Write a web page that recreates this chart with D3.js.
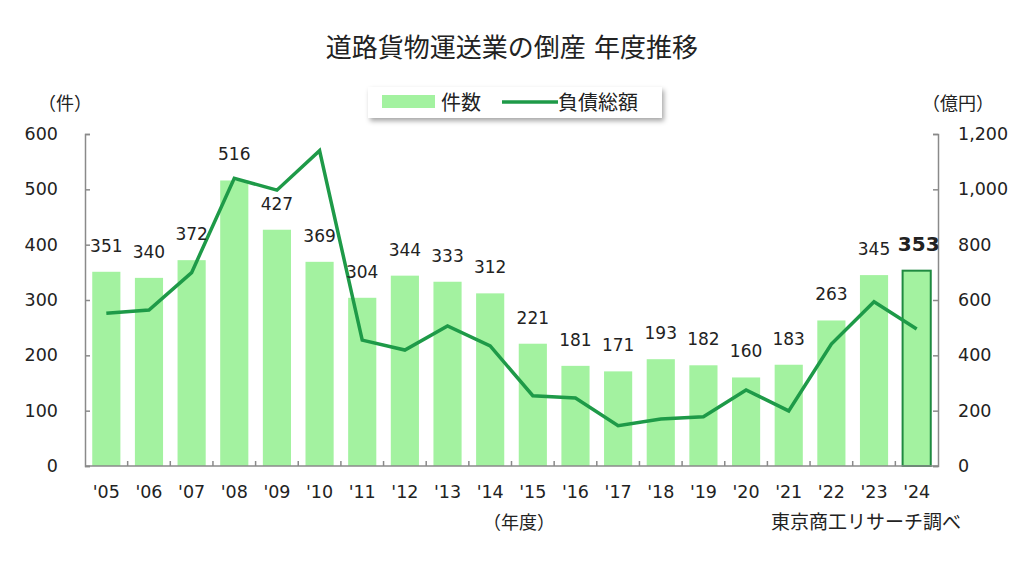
<!DOCTYPE html>
<html>
<head>
<meta charset="utf-8">
<script src="https://cdn.jsdelivr.net/npm/d3@7"></script>
<style>
  body { margin: 0; background: #fff; }
  text { font-family: "DejaVu Sans", "Noto Sans CJK JP", sans-serif; fill: #222; }
</style>
</head>
<body>
<div id="container"></div>
<script>
/* DATA */
const years = ["'05","'06","'07","'08","'09","'10","'11","'12","'13","'14",
               "'15","'16","'17","'18","'19","'20","'21","'22","'23","'24"];
const cases = [351,340,372,516,427,369,304,344,333,312,221,181,171,193,182,160,183,263,345,353];
const debt = [552,564,699,1040,997,1140,455,419,506,434,254,246,146,170,178,275,199,441,594,495];
const leftTicks = [0,100,200,300,400,500,600];
const rightTicks = [0,200,400,600,800,1000,1200];

/* CONSTANTS */
const W = 1024, H = 576;
const margin = {top: 134, right: 86, bottom: 110, left: 85};
const width = W - margin.left - margin.right,
      height = H - margin.top - margin.bottom;
const barColor = "#a3f2a0", lineColor = "#1e9a48", axisColor = "#8a8a8a";

const svg = d3.select("#container")
  .append("svg")
  .attr("width", W)
  .attr("height", H);

// title
svg.append("text")
  .attr("x", 512).attr("y", 57)
  .attr("text-anchor", "middle")
  .style("font-size", "26px")
  .text("道路貨物運送業の倒産 年度推移");

const g = svg.append("g")
  .attr("transform", `translate(${margin.left},${margin.top})`);

// SCALES
const x = d3.scaleBand().domain(years).range([0, width]).paddingInner(0.34).paddingOuter(0.17);
const xs = d3.scaleBand().domain(years).range([0, width]);
const yL = d3.scaleLinear().domain([0, 600]).range([height, 0]);
const yR = d3.scaleLinear().domain([0, 1200]).range([height, 0]);

// BARS
g.selectAll("rect.bar")
  .data(cases)
  .join("rect")
  .attr("class", "bar")
  .attr("x", (d, i) => x(years[i]))
  .attr("y", d => yL(d))
  .attr("width", x.bandwidth())
  .attr("height", d => height - yL(d))
  .attr("fill", barColor)
  .attr("stroke", (d, i) => i === cases.length - 1 ? "#1f8a40" : "none")
  .attr("stroke-width", 2);

// AXES
const axL = g.append("g").call(d3.axisLeft(yL).tickValues(leftTicks).tickSize(-5).tickPadding(27));
const axR = g.append("g").attr("transform", `translate(${width},0)`)
  .call(d3.axisRight(yR).tickValues(rightTicks).tickSize(-5).tickPadding(20).tickFormat(d3.format(",")));
const axB = g.append("g").attr("transform", `translate(0,${height})`)
  .call(d3.axisBottom(xs).tickSize(0).tickPadding(20));
[axL, axR, axB].forEach(a => {
  a.select(".domain").attr("stroke", axisColor).attr("stroke-width", 1.5);
  a.selectAll(".tick line").attr("stroke", axisColor).attr("stroke-width", 1.5);
  a.selectAll(".tick text").style("font-size", "17.5px").attr("fill", "#222");
});
axB.select(".domain").attr("d", `M0,0H${width}`);
// category separator ticks on the x axis
g.selectAll("line.sep")
  .data(years.slice(1))
  .join("line")
  .attr("class", "sep")
  .attr("x1", d => xs(d)).attr("x2", d => xs(d))
  .attr("y1", height).attr("y2", height - 5)
  .attr("stroke", axisColor).attr("stroke-width", 1.5);

// LINE
g.append("path")
  .datum(debt)
  .attr("fill", "none")
  .attr("stroke", lineColor)
  .attr("stroke-width", 3.5)
  .attr("stroke-linejoin", "miter")
  .attr("d", d3.line()
    .x((d, i) => xs(years[i]) + xs.bandwidth() / 2)
    .y(d => yR(d)));

// BAR LABELS
g.selectAll("text.lbl")
  .data(cases)
  .join("text")
  .attr("class", "lbl")
  .attr("x", (d, i) => xs(years[i]) + xs.bandwidth() / 2 + (i === cases.length - 1 ? 2 : 0))
  .attr("y", d => yL(d) - 20)
  .attr("text-anchor", "middle")
  .style("font-size", (d, i) => i === cases.length - 1 ? "20px" : "17px")
  .style("font-weight", (d, i) => i === cases.length - 1 ? "bold" : "normal")
  .text(d => d);

// axis unit labels
svg.append("text").attr("x", 38).attr("y", 110).style("font-size", "18px").text("（件）");
svg.append("text").attr("x", 922).attr("y", 110).style("font-size", "18px").text("（億円）");
svg.append("text").attr("x", 483).attr("y", 529).style("font-size", "18px").text("（年度）");
svg.append("text").attr("x", 961).attr("y", 529).attr("text-anchor", "end")
  .style("font-size", "19px").text("東京商工リサーチ調べ");

// LEGEND
const defs = svg.append("defs");
const f = defs.append("filter").attr("id", "shadow").attr("x", "-10%").attr("y", "-30%").attr("width", "130%").attr("height", "180%");
f.append("feDropShadow").attr("dx", 2).attr("dy", 3).attr("stdDeviation", 2.5).attr("flood-color", "#000").attr("flood-opacity", 0.35);

const lg = svg.append("g").attr("transform", "translate(368,87)");
lg.append("rect").attr("width", 294).attr("height", 31).attr("fill", "#fff").attr("filter", "url(#shadow)");
lg.append("rect").attr("x", 14).attr("y", 8).attr("width", 53).attr("height", 13).attr("fill", barColor);
lg.append("text").attr("x", 73).attr("y", 23).style("font-size", "20px").text("件数");
lg.append("line").attr("x1", 134).attr("x2", 190).attr("y1", 15).attr("y2", 15)
  .attr("stroke", lineColor).attr("stroke-width", 3.5);
lg.append("text").attr("x", 190).attr("y", 23).style("font-size", "20px").text("負債総額");
</script>
</body>
</html>
